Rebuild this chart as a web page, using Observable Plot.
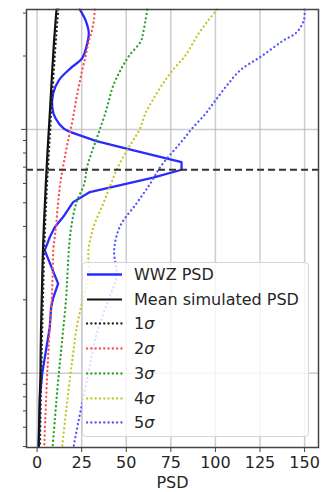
<!DOCTYPE html>
<html>
<head>
<meta charset="utf-8">
<script src="https://cdn.jsdelivr.net/npm/d3@7"></script>
<script src="https://cdn.jsdelivr.net/npm/@observablehq/plot@0.6"></script>
<style>
  html, body { margin: 0; padding: 0; background: #fff; }
  #wrap { position: relative; width: 333px; height: 492px; font-family: "DejaVu Sans", sans-serif; }
  #legend { position: absolute; left: 82px; top: 262px; width: 227px; height: 175px;
    border: 1px solid #d6d6d6; border-radius: 4px; background: rgba(255,255,255,0.8); box-sizing: border-box; }
  .row { position: absolute; left: 0; height: 24px; width: 100%; }
  .row svg { position: absolute; left: 3px; top: 0; }
  .row span { position: absolute; left: 51px; top: 1px; font-size: 16px; color: #262626; line-height: 22px; white-space: nowrap; }
</style>
</head>
<body>
<div id="wrap"><div id="legend"></div></div>
<script>
// Period (log y axis, unlabeled) shared by the simulated curves
const periods = [31, 28, 25, 23, 20, 17.5, 15, 13, 11.5, 10, 9, 8, 7, 6, 5, 4, 3.2, 2.5, 2, 1.5, 1.2, 1, 0.8, 0.65, 0.5];
const meanPSD = [10.9, 10.4, 9.9, 9.5, 9.0, 8.5, 8.0, 7.5, 7.1, 6.6, 6.2, 5.8, 5.4, 4.9, 4.4, 3.8, 3.3, 2.9, 2.6, 2.2, 2.0, 1.9, 1.5, 1.2, 0.9];
const sigma1 = [12.0, 11.4, 10.9, 10.5, 9.9, 9.4, 8.8, 8.3, 7.8, 7.4, 7.0, 6.6, 6.1, 5.6, 5.1, 4.5, 4.0, 3.6, 3.3, 2.9, 2.6, 2.4, 2.1, 1.9, 1.6];
const sigma2 = [32.4, 31.8, 30.5, 29.0, 27.2, 25.3, 23.4, 21.7, 20.5, 18.8, 17.4, 16.0, 14.5, 13.0, 11.8, 10.6, 9.1, 8.7, 8.2, 7.0, 6.3, 5.7, 5.1, 4.6, 4.0];
const sigma3 = [61.8, 60.8, 59.5, 58.2, 51.5, 46.8, 42.5, 40.1, 38.0, 35.2, 33.0, 30.5, 28.0, 26.5, 22.0, 19.2, 17.8, 17.0, 16.2, 14.6, 13.3, 12.2, 11.0, 10.0, 8.7];
const sigma4 = [101, 96, 91, 88, 83, 76, 69.5, 64.3, 60.5, 57.5, 53.8, 49.5, 45.3, 41.5, 37.3, 31.8, 28.8, 29.0, 25.5, 22.0, 20.2, 18.8, 17.2, 15.8, 14.1];
const sigma5 = [150, 149.6, 145.5, 137.5, 126, 114, 106, 99.5, 94, 86.5, 81.5, 75.5, 69, 63.5, 56, 46.5, 43.2, 44.5, 40, 34, 30.8, 28.8, 26.0, 23.5, 20.5];

// WWZ PSD (own period sampling)
const wwzPeriod = [31.0, 28.0, 24.8, 22.5, 19.6, 17.8, 15.9, 14.05, 12.31, 11.10, 10.07, 9.68, 8.95, 8.33, 7.34, 6.83, 6.34, 5.53, 5.03, 4.37, 3.97, 3.61, 3.19, 2.33, 2.03, 1.87, 1.54, 1.0, 0.8, 0.5];
const wwzPSD = [24.0, 27.2, 29.0, 28.1, 25.3, 18.7, 12.2, 9.0, 8.5, 10.3, 15.0, 20.0, 33.3, 50.1, 81.0, 81.0, 65.1, 29.6, 20.2, 14.6, 9.9, 7.1, 4.3, 11.8, 9.0, 7.9, 7.1, 2.9, 1.6, 0.9];

const peakPeriod = 6.83;

const xTicks = [0, 25, 50, 75, 100, 125, 150];
const yMajor = [1, 10];
const yMinor = [0.5, 0.6, 0.7, 0.8, 0.9, 2, 3, 4, 5, 6, 7, 8, 9, 20, 30];

const DOTS = "0.1,4.2";
const series = [
  {label: "WWZ PSD", x: wwzPSD, y: wwzPeriod, color: "#2a2aff", width: 2.3, dash: null},
  {label: "Mean simulated PSD", x: meanPSD, y: periods, color: "#111111", width: 2.2, dash: null},
  {label: "1", x: sigma1, y: periods, color: "#222222", width: 2.3, dash: DOTS},
  {label: "2", x: sigma2, y: periods, color: "#ff4c4c", width: 2.3, dash: DOTS},
  {label: "3", x: sigma3, y: periods, color: "#2ca02c", width: 2.3, dash: DOTS},
  {label: "4", x: sigma4, y: periods, color: "#c6c62a", width: 2.3, dash: DOTS},
  {label: "5", x: sigma5, y: periods, color: "#5656ff", width: 2.3, dash: DOTS}
];

const marks = [
  Plot.gridX(xTicks, {stroke: "#b8b8b8", strokeOpacity: 0.7, strokeWidth: 1.5}),
  Plot.gridY(yMajor, {stroke: "#b8b8b8", strokeOpacity: 0.7, strokeWidth: 1.5}),
];
series.forEach((s, k) => {
  const data = s.y.map((p, i) => ({p, v: s.x[i], i}));
  const base = {x: "v", y: "p", stroke: s.color, strokeWidth: s.width};
  if (s.dash) { base.strokeDasharray = s.dash; base.strokeLinecap = "round"; }
  if (k === 0) {
    // smooth upper part, piecewise-linear peak region
    marks.push(Plot.line(data.filter(d => d.i <= 11), {...base, curve: "catmull-rom"}));
    marks.push(Plot.line(data.filter(d => d.i >= 11), {...base, curve: "linear"}));
  } else {
    marks.push(Plot.line(data, {...base, curve: "catmull-rom"}));
  }
});
marks.push(Plot.ruleY([peakPeriod], {stroke: "#333", strokeWidth: 2.2, strokeDasharray: "7,4"}));
marks.push(Plot.frame({stroke: "#444", strokeWidth: 1.5}));
marks.push(Plot.axisX(xTicks, {tickSize: 5, tickPadding: 4, fontSize: 16, label: "PSD", labelAnchor: "center", labelArrow: "none", labelOffset: 40, stroke: "#444"}));
marks.push(Plot.axisY(yMajor, {tickSize: 5, tickFormat: () => "", label: null, stroke: "#444"}));
marks.push(Plot.axisY(yMinor, {tickSize: 3, tickFormat: () => "", label: null, stroke: "#444"}));

const chart = Plot.plot({
  width: 333,
  height: 492,
  marginLeft: 26,
  marginRight: 15,
  marginTop: 9,
  marginBottom: 45,
  x: {domain: [-5.94, 157.8]},
  y: {type: "log", domain: [0.4955, 31.03]},
  style: {fontFamily: "DejaVu Sans", fontSize: "16px", color: "#262626", background: "#fff"},
  marks
});
const wrap = document.getElementById("wrap");
wrap.insertBefore(chart, wrap.firstChild);

const legend = document.getElementById("legend");
series.forEach((s, i) => {
  const row = document.createElement("div");
  row.className = "row";
  row.style.top = (i * 24.7) + "px";
  const svg = d3.create("svg").attr("width", 38).attr("height", 24);
  const ln = svg.append("line").attr("x1", 1).attr("x2", 36).attr("y1", 11.5).attr("y2", 11.5)
    .attr("stroke", s.color).attr("stroke-width", s.width);
  if (s.dash) ln.attr("stroke-dasharray", s.dash).attr("stroke-linecap", "round");
  row.appendChild(svg.node());
  const sp = document.createElement("span");
  if (s.dash) {
    sp.innerHTML = s.label + "<i>σ</i>";
  } else {
    sp.textContent = s.label;
  }
  row.appendChild(sp);
  legend.appendChild(row);
});
</script>
</body>
</html>
